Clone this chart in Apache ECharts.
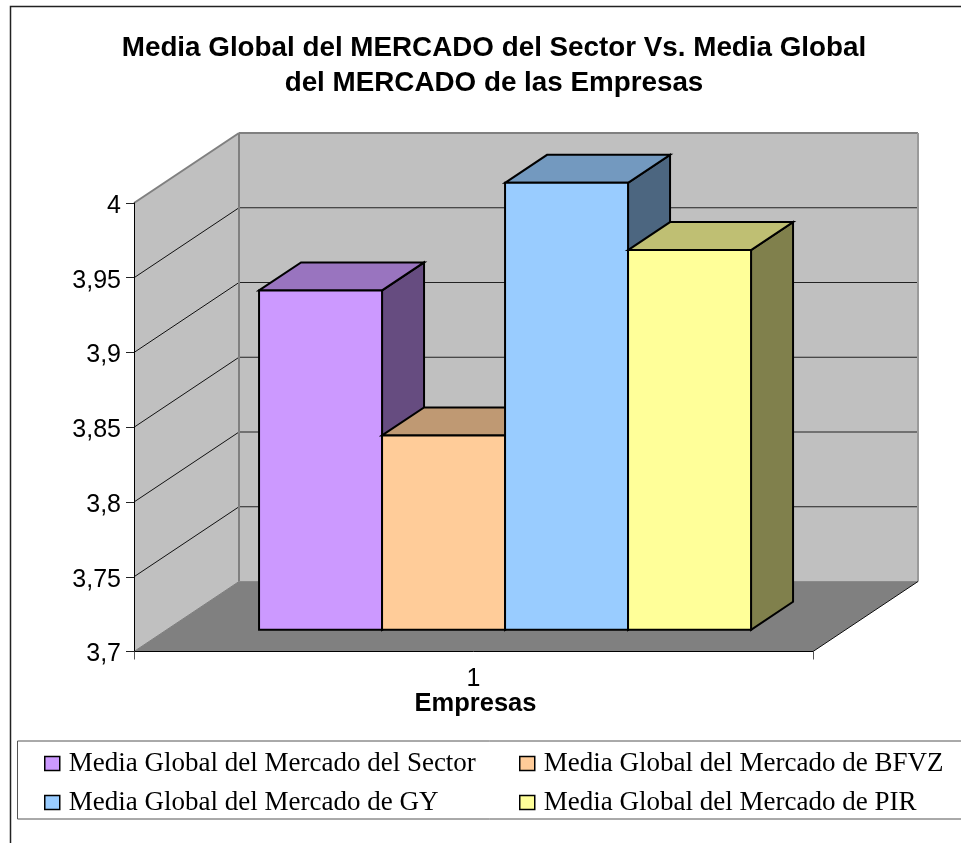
<!DOCTYPE html>
<html>
<head>
<meta charset="utf-8">
<style>html,body{margin:0;padding:0;background:#fff}#c{width:961px;height:843px}</style>
<script src="https://cdn.jsdelivr.net/npm/echarts@6/dist/echarts.min.js"></script>
</head>
<body>
<div id="c"></div>
<script>
const chartTitle = 'Media Global del MERCADO del Sector Vs. Media Global\ndel MERCADO de las Empresas';
const categories = ['1'];
const xName = 'Empresas';
const yTicks = [3.7, 3.75, 3.8, 3.85, 3.9, 3.95, 4];
const seriesNames = ['Media Global del Mercado del Sector', 'Media Global del Mercado de BFVZ', 'Media Global del Mercado de GY', 'Media Global del Mercado de PIR'];
const valuesSector = [3.927];
const valuesBFVZ = [3.83];
const valuesGY = [3.999];
const valuesPIR = [3.954];
const colors = ['#CC99FF', '#FFCC99', '#99CCFF', '#FFFF99'];
const topColors = ['#9974BF', '#BF9973', '#7399BF', '#BFBF73'];
const sideColors = ['#664C80', '#80664C', '#4C6680', '#80804C'];

const DX = 105, DY = -70;          // wall depth offset
const B0 = 0.31, B1 = 0.71;        // bar depth range, fraction of wall depth
const BAR_FRAC = 123 / 679;        // bar width as a fraction of the band
const yMin = yTicks[0], yMax = yTicks[yTicks.length - 1];

function poly(points, fill, stroke, lw) {
  return { type: 'polygon', shape: { points }, style: { fill, stroke: stroke || 'none', lineWidth: lw || 0, lineJoin: 'miter' } };
}
function seg(a, b, stroke, lw) {
  return { type: 'line', shape: { x1: a[0], y1: a[1], x2: b[0], y2: b[1] }, style: { stroke, lineWidth: lw } };
}

function renderWalls(params, api) {
  const cs = params.coordSys;
  const xl = cs.x, xr = cs.x + cs.width;
  const yb = api.coord([0, yMin])[1], yt = api.coord([0, yMax])[1];
  const kids = [
    poly([[xl + DX, yt + DY], [xr + DX, yt + DY], [xr + DX, yb + DY], [xl + DX, yb + DY]], '#C0C0C0'),
    poly([[xl, yt], [xl + DX, yt + DY], [xl + DX, yb + DY], [xl, yb]], '#C0C0C0'),
    poly([[xl, yb], [xr, yb], [xr + DX, yb + DY], [xl + DX, yb + DY]], '#808080')
  ];
  yTicks.forEach(function (t) {
    const y = api.coord([0, t])[1];
    if (t > yMin && t < yMax) {
      kids.push(seg([xl, y], [xl + DX, y + DY], '#111', 1));
      kids.push(seg([xl + DX, y + DY], [xr + DX, y + DY], '#222', 1));
    }
  });
  kids.push(seg([xl, yt], [xl + DX, yt + DY], '#808080', 2));
  kids.push(seg([xl + DX, yt + DY], [xr + DX, yt + DY], '#808080', 2));
  kids.push(seg([xl + DX, yt + DY], [xl + DX, yb + DY], '#808080', 2));
  kids.push(seg([xr + DX, yt + DY], [xr + DX, yb + DY], '#9a9a9a', 2));
  kids.push(seg([xl + DX, yb + DY], [xr + DX, yb + DY], '#8a8a8a', 1));
  kids.push(seg([xr, yb], [xr + DX, yb + DY], '#111', 1));
  kids.push(seg([xl, yb], [xl + DX, yb + DY], '#808080', 1));
  return { type: 'group', children: kids };
}

function barRenderer(idx) {
  return function (params, api) {
    const c = api.coord([api.value(0), api.value(1)]);
    const base = api.coord([api.value(0), yMin]);
    const band = api.size([1, 0])[0];
    const w = band * BAR_FRAC;
    const xs = c[0] - 2 * w + idx * w + B0 * DX - 1;
    const xe = xs + w;
    const yT = c[1] + B0 * DY, yB = base[1] + B0 * DY;
    const ddx = (B1 - B0) * DX, ddy = (B1 - B0) * DY;
    const line = '#000';
    return { type: 'group', children: [
      poly([[xe, yT], [xe + ddx, yT + ddy], [xe + ddx, yB + ddy], [xe, yB]], sideColors[idx], line, 2),
      poly([[xs, yT], [xs + ddx, yT + ddy], [xe + ddx, yT + ddy], [xe, yT]], topColors[idx], line, 2),
      poly([[xs, yT], [xe, yT], [xe, yB], [xs, yB]], api.visual('color'), line, 2)
    ] };
  };
}

const barValues = [valuesSector, valuesBFVZ, valuesGY, valuesPIR];
const barSeries = seriesNames.map(function (name, i) {
  return {
    name, type: 'custom', clip: false, silent: true, z: 3 + i,
    itemStyle: { color: colors[i] },
    encode: { x: 0, y: 1 },
    data: barValues[i].map(function (v, k) { return [k, v]; }),
    renderItem: barRenderer(i)
  };
});

const legendBase = {
  orient: 'vertical', top: 750, itemGap: 12, itemWidth: 15, itemHeight: 14, icon: 'rect',
  padding: 0, selectedMode: false,
  itemStyle: { borderColor: '#000', borderWidth: 1.5 },
  textStyle: { fontFamily: 'Liberation Serif', fontSize: 27, lineHeight: 22, color: '#000', padding: [0, 0, 0, 4] }
};

const chart = echarts.init(document.getElementById('c'), null, { renderer: 'canvas' });
chart.setOption({
  animation: false,
  backgroundColor: '#fff',
  title: {
    text: chartTitle, left: 489, top: 26, textAlign: 'center',
    textStyle: { fontFamily: 'Liberation Sans', fontWeight: 'bold', fontSize: 27.8, lineHeight: 35, color: '#000' }
  },
  grid: { left: 134, top: 203, width: 679, height: 448.5, containLabel: false },
  xAxis: {
    type: 'category', data: categories, z: 5,
    name: xName, nameLocation: 'middle', nameGap: 39, nameMoveOverlap: false,
    nameTextStyle: { fontFamily: 'Liberation Sans', fontWeight: 'bold', fontSize: 25.5, color: '#000', padding: [0, 0, 0, 4] },
    axisLine: { lineStyle: { color: '#000', width: 1 } },
    axisTick: { show: true, length: 8, lineStyle: { color: '#555' } },
    axisLabel: { fontFamily: 'Liberation Sans', fontSize: 25, color: '#000', margin: 15 }
  },
  yAxis: {
    type: 'value', min: yMin, max: yMax, interval: 0.05, z: 5,
    axisLine: { show: true, lineStyle: { color: '#000', width: 1 } },
    axisTick: { show: true, length: 8, lineStyle: { color: '#222' } },
    splitLine: { show: false },
    axisLabel: {
      fontFamily: 'Liberation Sans', fontSize: 25, color: '#000', margin: 13,
      verticalAlign: 'top', lineHeight: 6,
      formatter: function (v) { return String(+v.toFixed(2)).replace('.', ','); }
    }
  },
  legend: [
    Object.assign({}, legendBase, { left: 44, data: [seriesNames[0], seriesNames[2]] }),
    Object.assign({}, legendBase, { left: 519, data: [seriesNames[1], seriesNames[3]] })
  ],
  graphic: [
    { type: 'rect', shape: { x: 10.5, y: 6.5, width: 1000, height: 900 }, style: { fill: 'none', stroke: '#222', lineWidth: 1.5 }, silent: true, z: -1 },
    { type: 'rect', shape: { x: 17.5, y: 741, width: 1000, height: 78 }, style: { fill: 'none', stroke: '#555', lineWidth: 1 }, silent: true, z: -1 }
  ],
  series: [{
    name: 'walls', type: 'custom', clip: false, silent: true, z: 2,
    encode: { x: 0, y: 1 }, data: [[0, yMin]], renderItem: renderWalls
  }].concat(barSeries)
});
</script>
</body>
</html>
